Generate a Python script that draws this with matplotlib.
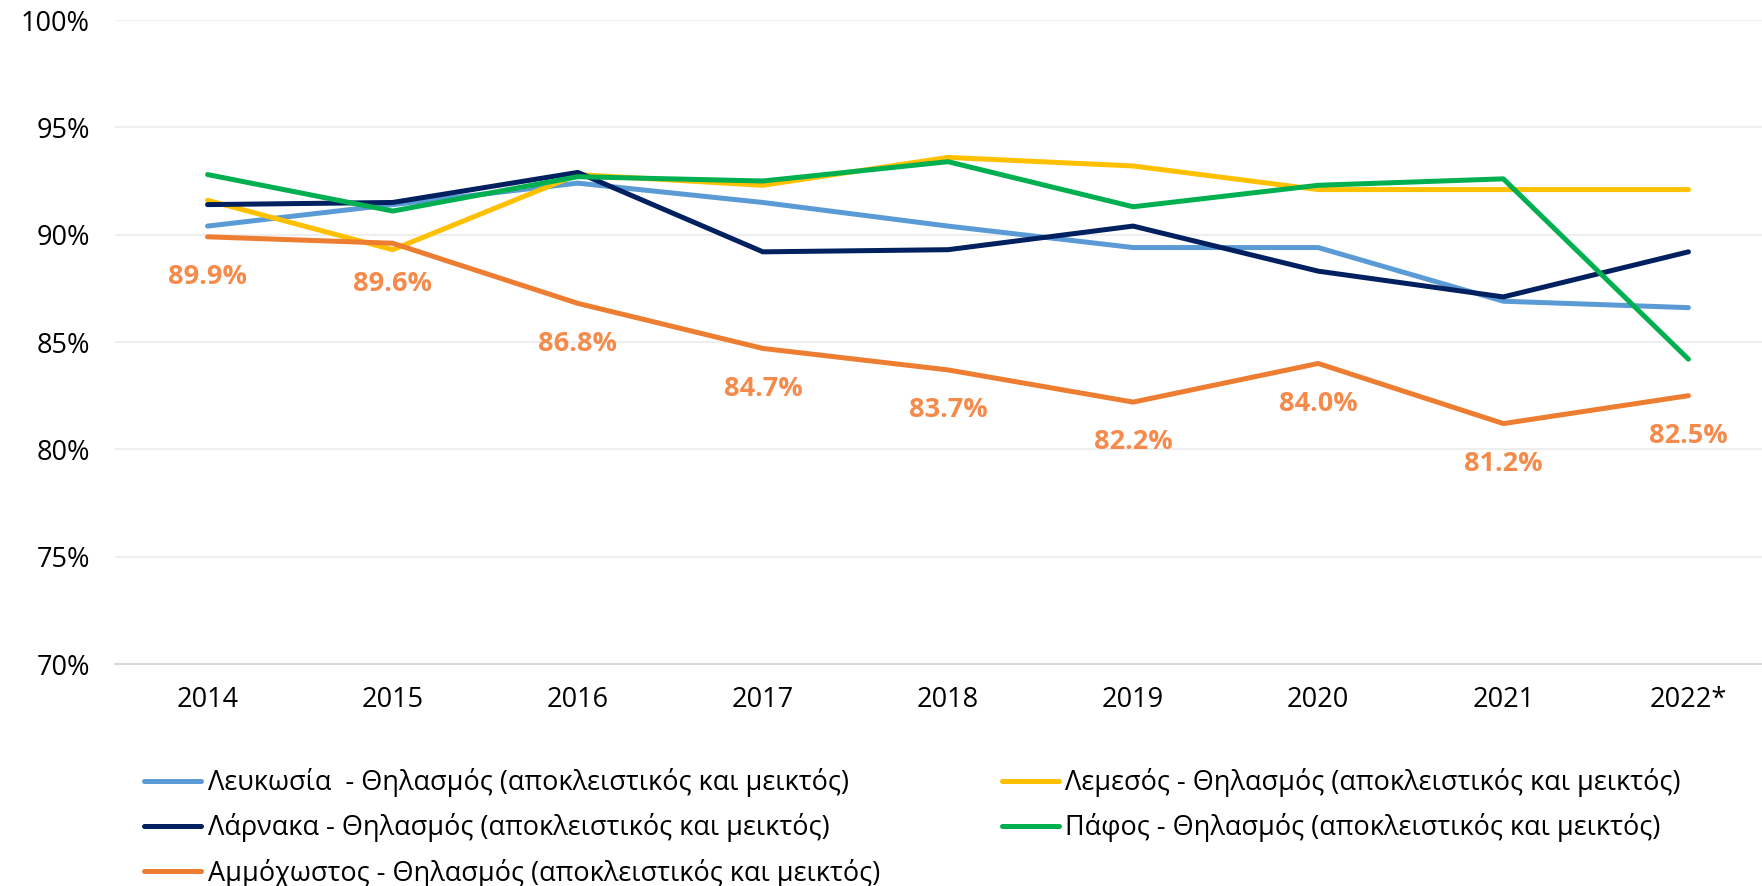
import numpy as np
import matplotlib
matplotlib.use("Agg")
import matplotlib.pyplot as plt
from matplotlib.ticker import FuncFormatter

plt.rcParams['font.family'] = ['Open Sans', 'DejaVu Sans']

# δεδομένα
years = ["2014", "2015", "2016", "2017", "2018", "2019", "2020", "2021", "2022*"]
lefkosia = [90.4, 91.4, 92.4, 91.5, 90.4, 89.4, 89.4, 86.9, 86.6]
lemesos = [91.6, 89.3, 92.8, 92.3, 93.6, 93.2, 92.1, 92.1, 92.1]
larnaka = [91.4, 91.5, 92.9, 89.2, 89.3, 90.4, 88.3, 87.1, 89.2]
pafos = [92.8, 91.1, 92.7, 92.5, 93.4, 91.3, 92.3, 92.6, 84.2]
ammochostos = [89.9, 89.6, 86.8, 84.7, 83.7, 82.2, 84.0, 81.2, 82.5]

suffix = " - Θηλασμός (αποκλειστικός και μεικτός)"
names = ["Λευκωσία " + suffix, "Λεμεσός" + suffix, "Λάρνακα" + suffix,
         "Πάφος" + suffix, "Αμμόχωστος" + suffix]
colors = ["#5B9BD5", "#FFC000", "#002060", "#00B050", "#ED7D31"]
series = [lefkosia, lemesos, larnaka, pafos, ammochostos]

fig = plt.figure(figsize=(17.62, 8.86), dpi=100)
ax = fig.add_axes([115 / 1762, 1 - 664 / 886, (1781 - 115) / 1762, (664 - 20) / 886])

x = np.arange(len(years))
lines = []
for vals, name, c in zip(series, names, colors):
    ln, = ax.plot(x, vals, color=c, linewidth=3.6, label=name, solid_capstyle='round')
    lines.append(ln)

# ετικέτες Αμμοχώστου
for xi, v in zip(x, ammochostos):
    ax.annotate(f"{v:.1f}%", (xi, v), xytext=(0, -29), textcoords='offset points',
                ha='center', va='center', fontsize=19.5, fontweight='bold', color='#F58A4B')

ax.set_xlim(-0.5, len(years) - 0.5)
ax.set_ylim(70, 100)
ax.set_yticks(np.arange(70, 101, 5))
ax.yaxis.set_major_formatter(FuncFormatter(lambda v, p: f"{v:.0f}%"))
ax.set_xticks(x)
ax.set_xticklabels(years)
ax.tick_params(axis='both', length=0, labelsize=19.5, colors='black')
ax.tick_params(axis='y', pad=18)
ax.tick_params(axis='x', pad=16)
ax.grid(axis='y', color='#EEEEEE', linewidth=1.5)
ax.set_axisbelow(True)
for s in ['top', 'right', 'left']:
    ax.spines[s].set_visible(False)
ax.spines['bottom'].set_color('#D9D9D9')
ax.spines['bottom'].set_linewidth(1.5)

order = [0, 2, 4, 1, 3]
fig.legend([lines[i] for i in order], [names[i] for i in order], ncol=2,
           loc='upper left', bbox_to_anchor=(144 / 1762, 1 - 768 / 886),
           frameon=False, fontsize=19.5, handlelength=2.1, handletextpad=0.25,
           labelspacing=0.6, columnspacing=4.5, borderpad=0, borderaxespad=0)

fig.savefig("out.png", dpi=100)
